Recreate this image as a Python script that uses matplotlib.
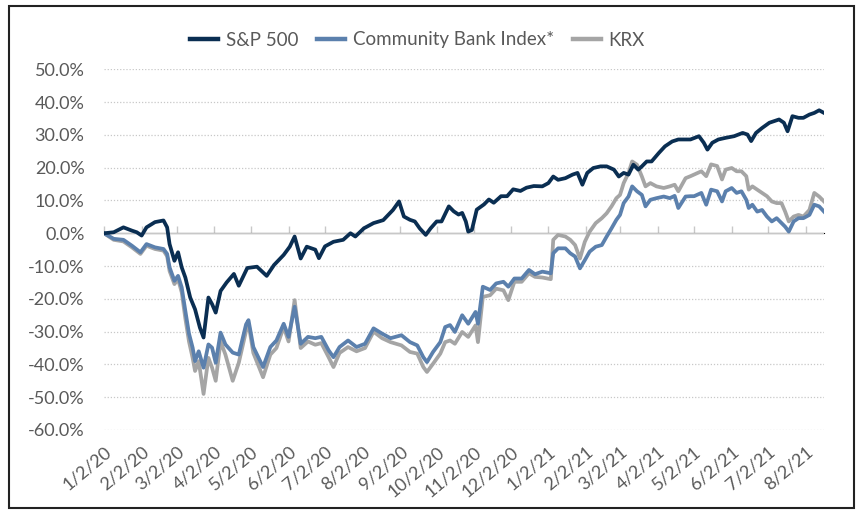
import matplotlib
matplotlib.use("Agg")
import matplotlib.pyplot as plt
from matplotlib.patches import Rectangle
import pandas as pd

start = pd.Timestamp("2020-01-02")

# S&P 500 cumulative return (%), by days since 1/2/20
sp_days = [0, 8, 16, 23, 27, 31, 35, 42, 49, 52, 54, 58, 61, 64, 67, 71, 75, 79, 82, 86,
           89, 92, 96, 101, 107, 111, 118, 126, 134, 140, 148, 153, 157, 162, 167, 174, 177,
           182, 189, 197, 203, 207, 214, 222, 230, 238, 243, 247, 252, 256, 260, 265, 269,
           274, 278, 284, 288, 292, 295, 298, 300, 303, 307, 313, 317, 321, 327, 332, 337,
           343, 348, 354, 361, 366, 370, 374, 380, 386, 390, 394, 398, 403, 409, 414, 420,
           424, 428, 432, 436, 440, 443, 447, 451, 457, 462, 468, 473, 479, 483, 490, 494,
           497, 501, 506, 512, 519, 526, 530, 533, 537, 542, 548, 552, 556, 560, 563, 567,
           572, 576, 581, 585, 589, 593]
sp_vals = [0, 0.3, 1.8, 0.8, 0.3, -0.7, 1.8, 3.4, 3.9, 1.8, -3.3, -8.4, -5.8, -10.4, -13.5,
           -19.6, -23.2, -28.8, -31.8, -19.6, -21.6, -24.2, -17.6, -15.0, -12.4, -16.0, -10.6,
           -10.2, -13.0, -9.7, -6.6, -4.1, -1.0, -7.7, -4.1, -5.0, -7.6, -4.0, -2.6, -2.0, 0.0,
           -1.0, 1.5, 3.1, 4.0, 7.1, 9.7, 5.1, 4.1, 3.6, 1.5, -0.5, 1.5, 3.6, 3.6, 8.2, 6.7,
           5.7, 6.2, 3.6, 0.5, 1.0, 7.2, 8.8, 10.3, 9.3, 11.3, 11.3, 13.4, 12.9, 13.9, 14.4,
           14.3, 15.3, 17.3, 16.3, 16.8, 17.9, 18.4, 14.8, 18.4, 19.9, 20.4, 20.4, 19.4, 17.3,
           18.4, 17.9, 20.9, 19.4, 20.4, 21.9, 21.9, 24.5, 26.5, 28.0, 28.6, 28.6, 28.6, 29.6,
           27.6, 25.5, 27.6, 28.6, 29.1, 29.6, 30.6, 30.1, 28.1, 30.6, 32.1, 33.7, 34.2, 34.7,
           33.7, 31.1, 35.7, 35.2, 35.2, 36.2, 36.7, 37.5, 36.7]

# Community Bank Index* and KRX (%), by days since 1/2/20
bank_days = [0, 8, 16, 23, 30, 35, 42, 49, 52, 54, 58, 61, 64, 67, 70, 73, 75, 78, 82, 86,
             89, 92, 96, 100, 106, 111, 117, 119, 123, 131, 137, 142, 148, 152, 157, 162, 168,
             174, 179, 185, 189, 194, 201, 208, 215, 222, 229, 236, 245, 252, 258, 263, 266,
             271, 277, 281, 285, 289, 295, 300, 306, 308, 312, 318, 323, 329, 333, 338, 344,
             350, 355, 361, 368, 370, 374, 380, 384, 388, 392, 396, 400, 405, 410, 414, 418,
             422, 425, 428, 432, 435, 439, 443, 446, 450, 455, 461, 466, 470, 473, 479, 483,
             486, 492, 496, 500, 505, 509, 512, 517, 521, 525, 529, 531, 534, 538, 542, 546,
             550, 554, 558, 561, 564, 568, 572, 576, 581, 585, 589, 593]
cbi_vals = [0, -1.7, -2.0, -3.8, -5.8, -3.3, -4.3, -4.8, -6.3, -10.4, -14.5, -13.0, -16.5,
            -23.7, -30.6, -34.9, -39.0, -36.0, -41.0, -33.9, -34.9, -39.5, -30.3, -33.9, -36.4,
            -37.0, -27.8, -26.5, -34.7, -40.8, -34.7, -32.7, -27.6, -31.6, -22.4, -33.7, -31.6,
            -32.0, -31.6, -35.7, -37.8, -34.7, -32.7, -34.7, -33.7, -29.0, -30.6, -32.0, -31.1,
            -33.2, -34.2, -37.8, -39.3, -36.2, -33.2, -28.6, -28.0, -30.1, -25.0, -27.6, -24.0,
            -27.6, -16.3, -17.3, -15.3, -14.8, -16.3, -13.8, -13.8, -11.2, -12.5, -11.7, -12.2,
            -6.1, -4.6, -4.6, -6.1, -7.1, -10.7, -8.2, -5.6, -4.1, -3.6, -1.0, 1.5, 4.1, 5.6,
            9.2, 11.2, 14.3, 12.8, 11.7, 8.2, 10.2, 10.7, 11.2, 10.7, 11.4, 7.7, 11.2, 11.3,
            11.3, 12.3, 8.7, 13.3, 12.8, 9.7, 12.8, 13.8, 12.3, 12.8, 10.2, 7.7, 8.7, 6.6, 7.1,
            5.1, 3.6, 4.6, 3.1, 2.0, 0.5, 3.6, 4.6, 4.6, 5.6, 8.7, 8.2, 6.6]
krx_vals = [0, -2.0, -2.5, -4.3, -6.3, -3.8, -4.8, -5.3, -7.0, -11.5, -15.5, -14.0, -18.0,
            -26.0, -33.0, -38.0, -42.0, -39.0, -49.0, -38.0, -41.0, -45.0, -33.0, -37.0, -45.0,
            -39.5, -29.8, -27.5, -36.5, -43.9, -37.0, -35.0, -28.6, -33.0, -20.4, -35.0, -33.0,
            -34.0, -33.5, -37.8, -40.8, -36.5, -34.7, -36.0, -35.0, -30.0, -32.0, -33.2, -34.2,
            -36.2, -36.7, -40.8, -42.3, -39.8, -36.7, -33.2, -32.7, -33.7, -30.1, -31.6, -28.1,
            -33.2, -19.4, -18.9, -16.9, -17.4, -20.4, -14.8, -14.8, -12.2, -13.3, -13.5, -14.0,
            -2.0, -0.5, -1.0, -2.0, -3.6, -7.7, -2.6, 0.5, 3.1, 4.6, 6.1, 8.2, 10.7, 11.7, 15.3,
            18.4, 21.9, 20.9, 17.3, 14.3, 15.3, 14.3, 13.8, 14.3, 14.8, 12.8, 16.8, 17.4, 17.9,
            18.9, 17.4, 21.0, 20.5, 16.4, 19.4, 19.9, 18.9, 18.9, 17.4, 13.3, 14.3, 13.3, 12.3,
            11.3, 9.7, 9.2, 9.2, 6.6, 3.6, 5.1, 5.6, 5.1, 7.1, 12.3, 11.2, 9.7]

tick_labels = ["1/2/20", "2/2/20", "3/2/20", "4/2/20", "5/2/20", "6/2/20", "7/2/20",
               "8/2/20", "9/2/20", "10/2/20", "11/2/20", "12/2/20", "1/2/21", "2/2/21",
               "3/2/21", "4/2/21", "5/2/21", "6/2/21", "7/2/21", "8/2/21"]

sp_dates = start + pd.to_timedelta(sp_days, unit="D")
bank_dates = start + pd.to_timedelta(bank_days, unit="D")
tick_dates = pd.to_datetime(tick_labels, format="%m/%d/%y")

plt.rcParams["font.family"] = ["Lato", "DejaVu Sans"]
txt_color = "#595959"

fig = plt.figure(figsize=(8.59, 5.12), dpi=100)
ax = fig.add_axes([104 / 859, 1 - 430 / 512, 720 / 859, (430 - 69.3) / 512])

# outer frame
fig.patches.append(Rectangle((9 / 859, 1 - 508 / 512), 845 / 859, 502 / 512,
                             transform=fig.transFigure, fill=False, ec="#222222", lw=1.5))

lw = 2.7
l_krx, = ax.plot(bank_dates, krx_vals, color="#A5A5A5", lw=lw, label="KRX")
l_cbi, = ax.plot(bank_dates, cbi_vals, color="#5B80AD", lw=lw, label="Community Bank Index*")
l_sp, = ax.plot(sp_dates, sp_vals, color="#0A2E52", lw=lw, label="S&P 500")

ax.set_ylim(-60, 50)
ax.set_xlim(start, sp_dates[-1])
ax.set_yticks(range(-60, 51, 10))
ax.set_yticklabels([f"{v:.1f}%" for v in range(-60, 51, 10)])
for v in range(-60, 51, 10):
    if v != 0:
        ax.axhline(v, color="#C8C8C8", lw=0.9, ls=(0, (1, 1.5)), zorder=0)
ax.axhline(0, color="#C8C8C8", lw=1.0, zorder=0.5)

for s in ax.spines.values():
    s.set_visible(False)
ax.tick_params(axis="y", length=0, labelsize=13, labelcolor=txt_color, pad=14)

ax.set_xticks(tick_dates)
ax.set_xticklabels(tick_labels, rotation=40, ha="right", rotation_mode="anchor")
ax.tick_params(axis="x", length=0, labelsize=13, labelcolor=txt_color, pad=10)

# tick marks along the zero line
sec = ax.secondary_xaxis(60 / 110)
sec.set_xticks(tick_dates)
sec.set_xticklabels([])
sec.tick_params(axis="x", length=5, color="#C8C8C8", width=1, direction="out")
sec.spines["bottom"].set_visible(False)

leg = fig.legend(handles=[l_sp, l_cbi, l_krx], loc="center", bbox_to_anchor=(0.486, 1 - 40 / 512),
                 ncol=3, frameon=False, fontsize=13.5, labelcolor=txt_color, handlelength=1.5,
                 handletextpad=0.4, columnspacing=1.0)
for h in leg.legend_handles:
    h.set_linewidth(3.2)

fig.savefig("out.png", dpi=100)
